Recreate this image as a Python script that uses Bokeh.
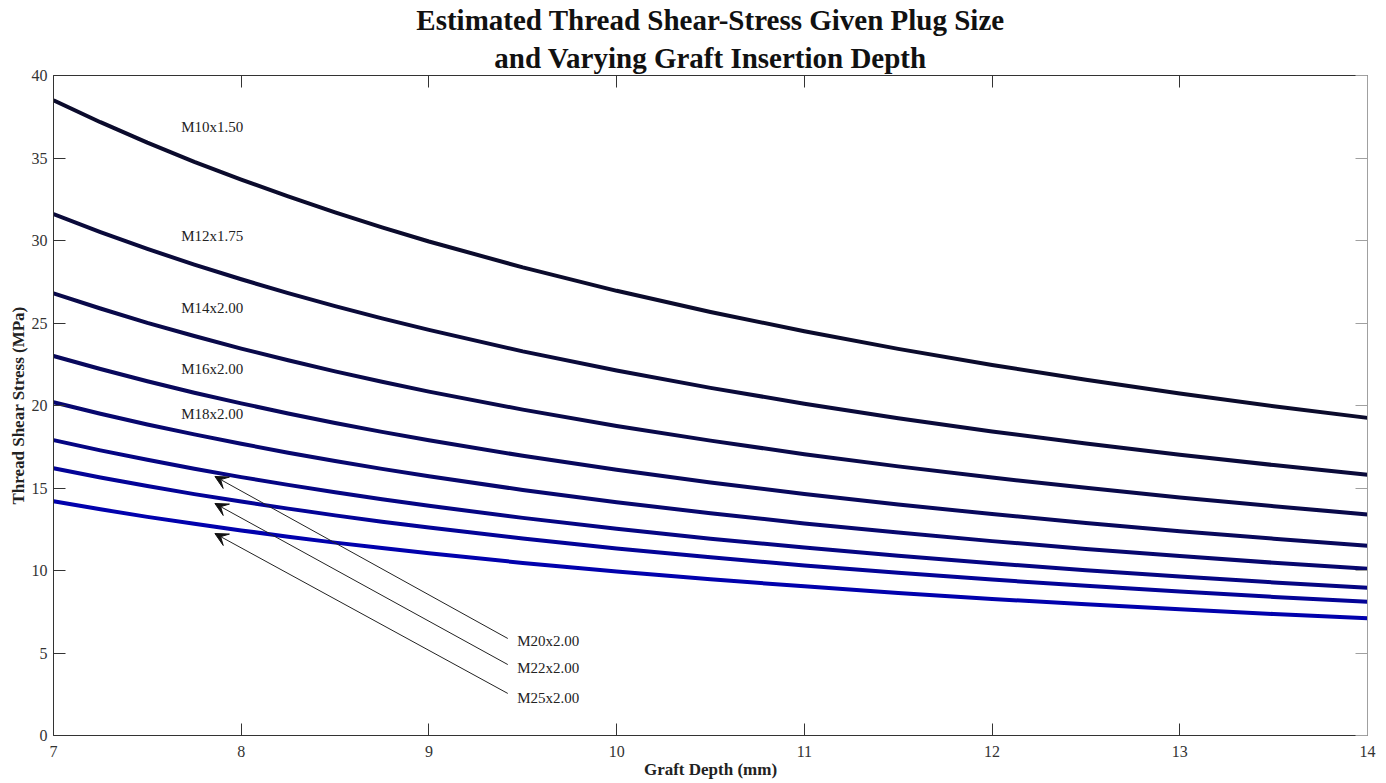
from bokeh.plotting import figure
from bokeh.models import LinearAxis, Label, Arrow, VeeHead, Range1d, FixedTicker, Title
from bokeh.embed import file_html
from bokeh.resources import INLINE

# ---- data ----
depth = [7, 7.25, 7.5, 7.75, 8, 8.25, 8.5, 8.75, 9, 9.5, 10, 10.5, 11, 11.5, 12, 12.5, 13, 13.5, 14]

m10 = [38.50, 37.17, 35.93, 34.77, 33.69, 32.67, 31.71, 30.80, 29.94, 28.37, 26.95, 25.67, 24.50, 23.43, 22.46, 21.56, 20.73, 19.96, 19.25]
m12 = [31.60, 30.51, 29.49, 28.54, 27.65, 26.81, 26.02, 25.28, 24.58, 23.28, 22.12, 21.07, 20.11, 19.23, 18.43, 17.70, 17.02, 16.39, 15.80]
m14 = [26.80, 25.88, 25.01, 24.21, 23.45, 22.74, 22.07, 21.44, 20.84, 19.75, 18.76, 17.87, 17.05, 16.31, 15.63, 15.01, 14.43, 13.90, 13.40]
m16 = [23.00, 22.21, 21.47, 20.77, 20.13, 19.52, 18.94, 18.40, 17.89, 16.95, 16.10, 15.33, 14.64, 14.00, 13.42, 12.88, 12.38, 11.93, 11.50]
m18 = [20.20, 19.50, 18.85, 18.25, 17.68, 17.14, 16.64, 16.16, 15.71, 14.88, 14.14, 13.47, 12.85, 12.30, 11.78, 11.31, 10.88, 10.47, 10.10]
m20 = [17.90, 17.28, 16.71, 16.17, 15.66, 15.19, 14.74, 14.32, 13.92, 13.19, 12.53, 11.93, 11.39, 10.90, 10.44, 10.02, 9.64, 9.28, 8.95]
m22 = [16.20, 15.64, 15.12, 14.63, 14.18, 13.75, 13.34, 12.96, 12.60, 11.94, 11.34, 10.80, 10.31, 9.86, 9.45, 9.07, 8.72, 8.40, 8.10]
m25 = [14.20, 13.71, 13.25, 12.83, 12.43, 12.05, 11.69, 11.36, 11.04, 10.46, 9.94, 9.47, 9.04, 8.64, 8.28, 7.95, 7.65, 7.36, 7.10]

series = [m10, m12, m14, m16, m18, m20, m22, m25]
names = ["M10x1.50", "M12x1.75", "M14x2.00", "M16x2.00", "M18x2.00", "M20x2.00", "M22x2.00", "M25x2.00"]

x_ticks = [7, 8, 9, 10, 11, 12, 13, 14]
y_ticks = [0, 5, 10, 15, 20, 25, 30, 35, 40]

title_lines = ["Estimated Thread Shear-Stress Given Plug Size", "and Varying Graft Insertion Depth"]

# ---- styles / annotation positions ----
colors = ["#0b0b2c", "#0a0a3a", "#09094a", "#08085c", "#07076e", "#050583", "#030397", "#0101ad"]
direct_label_pos = [(7.68, 36.85), (7.68, 30.3), (7.68, 25.9), (7.68, 22.2), (7.68, 19.5)]
arrow_label_pos = [(9.47, 5.7), (9.47, 4.12), (9.47, 2.3)]
arrow_tail = [(9.42, 5.88), (9.42, 4.3), (9.42, 2.55)]
arrow_tip = [(7.86, 15.7), (7.86, 14.06), (7.86, 12.24)]

SERIF = "Liberation Serif"

p = figure(width=1386, height=783, output_backend="svg", toolbar_location=None,
           x_range=Range1d(7, 14), y_range=Range1d(0, 40),
           min_border_left=53, min_border_right=19, min_border_top=75, min_border_bottom=48)
p.title = None
p.outline_line_color = None
p.grid.visible = False
p.background_fill_color = "white"
p.border_fill_color = "white"

for s, c in zip(series, colors):
    p.line(depth, s, line_color=c, line_width=4, line_join="round")

def style_axis(ax, ticks, labels=True, color="#333333"):
    ax.axis_line_color = color
    ax.major_tick_line_color = color
    ax.major_tick_in = 12
    ax.major_tick_out = 0
    ax.minor_tick_line_color = None
    ax.major_label_text_font = SERIF
    ax.major_label_text_font_size = "16px"
    ax.major_label_text_color = "#333333"
    if not labels:
        ax.major_label_overrides = {t: "" for t in ticks}
        ax.major_label_standoff = 0

xa = p.xaxis[0]
ya = p.yaxis[0]
xa.ticker = FixedTicker(ticks=x_ticks)
ya.ticker = FixedTicker(ticks=y_ticks)
style_axis(xa, x_ticks)
style_axis(ya, y_ticks)
xa.major_label_standoff = 10
ya.major_label_standoff = 6
xa.axis_label = "Graft Depth (mm)"
ya.axis_label = "Thread Shear Stress (MPa)"
for ax in (xa, ya):
    ax.axis_label_text_font = SERIF
    ax.axis_label_text_font_style = "bold"
    ax.axis_label_text_font_size = "17px"
    ax.axis_label_text_color = "#222222"
xa.axis_label_standoff = 0
ya.axis_label_standoff = 1

top = LinearAxis(ticker=FixedTicker(ticks=x_ticks))
style_axis(top, x_ticks, labels=False)
p.add_layout(top, "above")
right = LinearAxis(ticker=FixedTicker(ticks=y_ticks))
style_axis(right, y_ticks, labels=False, color="#a0a0a0")
p.add_layout(right, "right")

p.add_layout(Title(text=title_lines[1], align="center", text_font=SERIF, text_font_style="bold",
                   text_font_size="29px", text_color="#111111", standoff=4, offset=0), "above")
p.add_layout(Title(text=title_lines[0], align="center", text_font=SERIF, text_font_style="bold",
                   text_font_size="29px", text_color="#111111", standoff=3, offset=0), "above")

for (lx, ly), n in zip(direct_label_pos, names[:5]):
    p.add_layout(Label(x=lx, y=ly, text=n, text_font=SERIF, text_font_size="15px",
                       text_baseline="middle", text_color="#222222"))

for (lx, ly), n in zip(arrow_label_pos, names[5:]):
    p.add_layout(Label(x=lx, y=ly, text=n, text_font=SERIF, text_font_size="15px",
                       text_baseline="middle", text_color="#222222"))

for (tx, ty), (hx, hy) in zip(arrow_tail, arrow_tip):
    p.add_layout(Arrow(x_start=tx, y_start=ty, x_end=hx, y_end=hy, line_width=1, line_color="#222222",
                       end=VeeHead(size=13, fill_color="#111111", line_color="#111111")))

open("out.html", "w").write(file_html(p, INLINE))
